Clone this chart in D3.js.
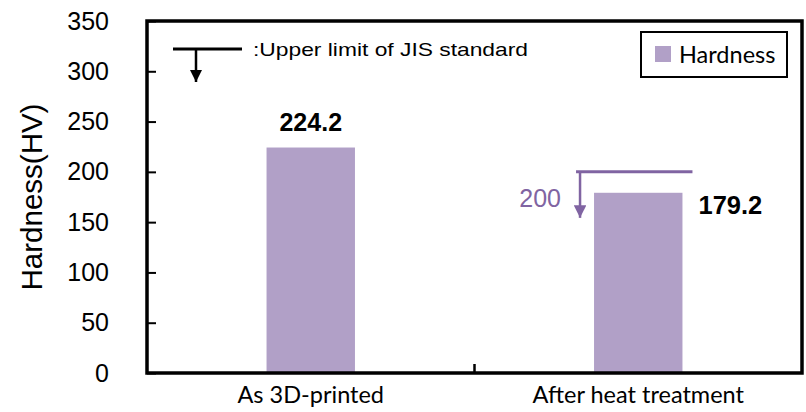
<!DOCTYPE html>
<html>
<head>
<meta charset="utf-8">
<script src="https://cdn.jsdelivr.net/npm/d3@7"></script>
<style>
  html, body { margin: 0; padding: 0; background: #fff; }
  svg { display: block; }
</style>
</head>
<body>
<svg id="chart" width="806" height="412"></svg>
<script>
// Vickers hardness before and after heat treatment
const categories = ["As 3D-printed", "After heat treatment"];
const hardness = [224.2, 179.2];
const valueLabels = ["224.2", "179.2"];
const yTicks = [0, 50, 100, 150, 200, 250, 300, 350];
const jisLimit = 200;          // upper limit applied to the heat-treated sample
const seriesName = "Hardness";
const yTitle = "Hardness(HV)";
const limitNote = ":Upper limit of JIS standard";

const W = 806, H = 412;
const margin = { top: 21, right: 4, bottom: 39, left: 147 };
const svg = d3.select("#chart");

const x = d3.scaleBand()
  .domain(categories)
  .range([margin.left, W - margin.right])
  .paddingInner(0)
  .paddingOuter(0);

const y = d3.scaleLinear()
  .domain([0, 350])
  .range([H - margin.bottom, margin.top]);

const barW = x.bandwidth() * 0.27;
const barColor = "#b1a0c7";
const limitColor = "#8064a2";

// bars
svg.append("g").selectAll("rect")
  .data(hardness)
  .join("rect")
  .attr("x", (d, i) => x(categories[i]) + x.bandwidth() / 2 - barW / 2)
  .attr("width", barW)
  .attr("y", d => y(d))
  .attr("height", d => y(0) - y(d))
  .attr("fill", barColor);

// left axis with inward ticks
const yAxis = svg.append("g")
  .attr("transform", `translate(${margin.left},0)`)
  .call(d3.axisLeft(y).tickValues(yTicks).tickSize(-9).tickPadding(38));
yAxis.select(".domain").remove();
yAxis.selectAll(".tick line").attr("stroke", "#000").attr("stroke-width", 2);
yAxis.selectAll(".tick text")
  .attr("font-family", "Liberation Sans, Arial, sans-serif")
  .attr("font-size", 25)
  .attr("fill", "#000");

// bottom axis: one divider tick between categories
const xAxis = svg.append("g")
  .attr("transform", `translate(0,${y(0)})`)
  .call(d3.axisBottom(x).tickSize(0).tickPadding(13));
xAxis.select(".domain").remove();
xAxis.selectAll(".tick text")
  .attr("font-family", "Lato, 'Open Sans', sans-serif")
  .attr("font-size", 23.5)
  .attr("fill", "#000");
svg.append("line")
  .attr("x1", x(categories[1])).attr("x2", x(categories[1]))
  .attr("y1", y(0)).attr("y2", y(0) - 9)
  .attr("stroke", "#000").attr("stroke-width", 2.5);

// plot frame
svg.append("rect")
  .attr("x", margin.left)
  .attr("y", margin.top)
  .attr("width", W - margin.right - margin.left)
  .attr("height", y(0) - margin.top)
  .attr("fill", "none")
  .attr("stroke", "#000")
  .attr("stroke-width", 3.5);

// value labels
svg.append("text")
  .attr("x", x(categories[0]) + x.bandwidth() / 2)
  .attr("y", y(hardness[0]) - 17)
  .attr("text-anchor", "middle")
  .attr("font-family", "Liberation Sans, Arial, sans-serif")
  .attr("font-weight", "bold")
  .attr("font-size", 25)
  .text(valueLabels[0]);
svg.append("text")
  .attr("x", x(categories[1]) + x.bandwidth() / 2 + barW / 2 + 16)
  .attr("y", y(hardness[1]) + 21)
  .attr("text-anchor", "start")
  .attr("font-family", "Liberation Sans, Arial, sans-serif")
  .attr("font-weight", "bold")
  .attr("font-size", 25.5)
  .text(valueLabels[1]);

// arrowheads
const defs = svg.append("defs");
function arrowMarker(id, color) {
  defs.append("marker")
    .attr("id", id)
    .attr("viewBox", "0 0 10 10")
    .attr("refX", 10).attr("refY", 5)
    .attr("markerWidth", 5).attr("markerHeight", 5)
    .attr("markerUnits", "strokeWidth")
    .attr("orient", "auto")
    .append("path")
    .attr("d", "M0,0 L10,5 L0,10 Z")
    .attr("fill", color);
}
arrowMarker("arrBlack", "#000");
arrowMarker("arrPurple", limitColor);

// JIS limit marker over the heat-treated bar
const cx2 = x(categories[1]) + x.bandwidth() / 2;
const limitG = svg.append("g");
limitG.append("line")
  .attr("x1", cx2 - barW / 2 - 18).attr("x2", cx2 + barW / 2 + 10)
  .attr("y1", y(jisLimit)).attr("y2", y(jisLimit))
  .attr("stroke", limitColor).attr("stroke-width", 3);
limitG.append("line")
  .attr("x1", cx2 - barW / 2 - 14).attr("x2", cx2 - barW / 2 - 14)
  .attr("y1", y(jisLimit)).attr("y2", y(jisLimit) + 46)
  .attr("stroke", limitColor).attr("stroke-width", 2.5)
  .attr("marker-end", "url(#arrPurple)");
limitG.append("text")
  .attr("x", cx2 - barW / 2 - 33)
  .attr("y", y(jisLimit) + 35)
  .attr("text-anchor", "end")
  .attr("font-family", "Liberation Sans, Arial, sans-serif")
  .attr("font-size", 25)
  .attr("fill", limitColor)
  .text(String(jisLimit));

// explanatory key for the limit marker
const keyG = svg.append("g");
keyG.append("line")
  .attr("x1", 173).attr("x2", 242).attr("y1", 49).attr("y2", 49)
  .attr("stroke", "#000").attr("stroke-width", 3);
keyG.append("line")
  .attr("x1", 196).attr("x2", 196).attr("y1", 49).attr("y2", 82)
  .attr("stroke", "#000").attr("stroke-width", 2.5)
  .attr("marker-end", "url(#arrBlack)");
keyG.append("text")
  .attr("x", 253).attr("y", 56)
  .attr("font-family", "Liberation Sans, Arial, sans-serif")
  .attr("font-size", 18.5)
  .attr("textLength", 275)
  .attr("lengthAdjust", "spacingAndGlyphs")
  .text(limitNote);

// legend
const legG = svg.append("g");
legG.append("rect")
  .attr("x", 641).attr("y", 32).attr("width", 146).attr("height", 45)
  .attr("fill", "#fff").attr("stroke", "#000").attr("stroke-width", 2);
legG.append("rect")
  .attr("x", 655).attr("y", 46).attr("width", 16).attr("height", 16)
  .attr("fill", barColor);
legG.append("text")
  .attr("x", 679).attr("y", 63)
  .attr("font-family", "Lato, 'Open Sans', sans-serif")
  .attr("font-size", 23.5)
  .text(seriesName);

// y axis title
svg.append("text")
  .attr("transform", `translate(42,${(y(0) + margin.top) / 2}) rotate(-90)`)
  .attr("text-anchor", "middle")
  .attr("font-family", "Liberation Sans, Arial, sans-serif")
  .attr("font-size", 29.5)
  .text(yTitle);
</script>
</body>
</html>
